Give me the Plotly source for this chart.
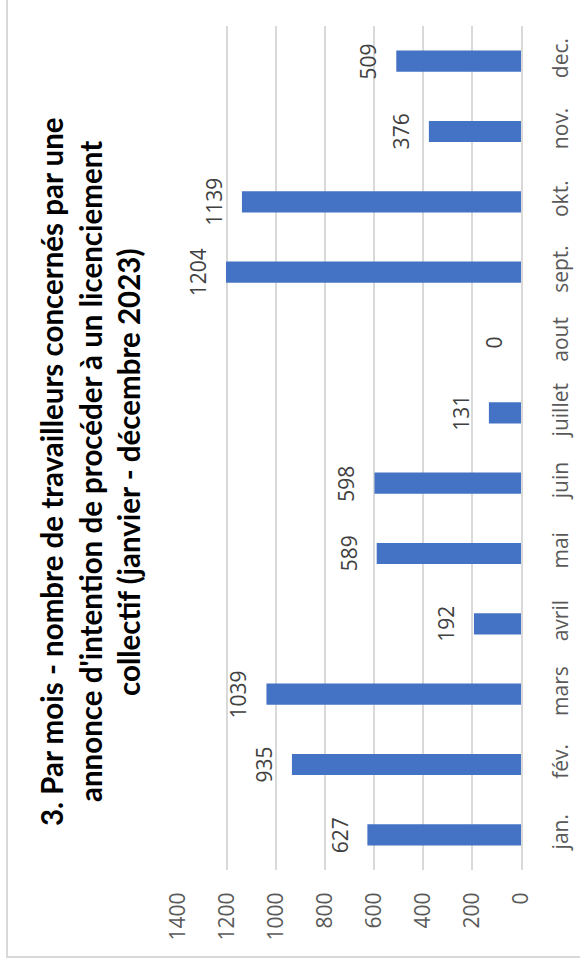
import plotly.graph_objects as go

months = ["jan.", "fév.", "mars", "avril", "mai", "juin", "juillet", "aout",
          "sept.", "okt.", "nov.", "dec."]
workers = [627, 935, 1039, 192, 589, 598, 131, 0, 1204, 1139, 376, 509]
value_ticks = [0, 200, 400, 600, 800, 1000, 1200, 1400]
title_lines = ["3. Par mois - nombre de travailleurs concernés par une",
               "annonce d'intention de procéder à un licenciement",
               "collectif (janvier - décembre 2023)"]

W, H = 580, 967
L, R, T, B = 178, 521, 26, 870


def px_x(p):
    return (p - L) / (R - L)


def px_y(p):
    return (B - p) / (B - T)


fig = go.Figure()
fig.add_trace(go.Bar(
    x=workers, y=months, orientation="h",
    marker=dict(color="#4472C4", line=dict(width=0)),
    hoverinfo="skip",
))

annotations = []
for m, v in zip(months, workers):
    annotations.append(dict(
        x=v, y=m, xref="x", yref="y", text=str(v), showarrow=False,
        textangle=-90, xanchor="right", yanchor="middle", xshift=-12,
        font=dict(family="Open Sans", size=21, color="#404040"),
    ))

title_x = [51, 90, 128]
for t, xp in zip(title_lines, title_x):
    annotations.append(dict(
        x=px_x(xp), y=px_y(472), xref="paper", yref="paper", text=t,
        showarrow=False, textangle=-90, xanchor="center", yanchor="middle",
        font=dict(family="Lato", size=29.5, color="#000000", weight="bold"),
    ))

fig.update_layout(
    width=W, height=H,
    margin=dict(l=L, r=W - R, t=T, b=H - B, pad=0),
    paper_bgcolor="white", plot_bgcolor="white",
    showlegend=False,
    bargap=0.7,
    annotations=annotations,
    shapes=[dict(type="rect", xref="paper", yref="paper",
                 x0=px_x(7), x1=px_x(590), y0=px_y(957), y1=px_y(-10),
                 line=dict(color="#d9d9d9", width=2), layer="below")],
    xaxis=dict(
        range=[1400, 0], tickvals=value_ticks, tickangle=-90,
        showgrid=True, gridcolor="#d9d9d9", gridwidth=2,
        zeroline=False, showline=False, automargin=False,
        ticks="outside", ticklen=13, tickcolor="rgba(0,0,0,0)",
        tickfont=dict(family="Open Sans", size=21, color="#595959"),
        fixedrange=True,
    ),
    yaxis=dict(
        side="right", tickangle=-90, showgrid=False, automargin=False,
        showline=True, linecolor="#d9d9d9", linewidth=2,
        ticks="outside", ticklen=20, tickcolor="rgba(0,0,0,0)",
        tickfont=dict(family="Open Sans", size=21, color="#595959"),
        fixedrange=True,
    ),
)

fig.write_html("out.html")
